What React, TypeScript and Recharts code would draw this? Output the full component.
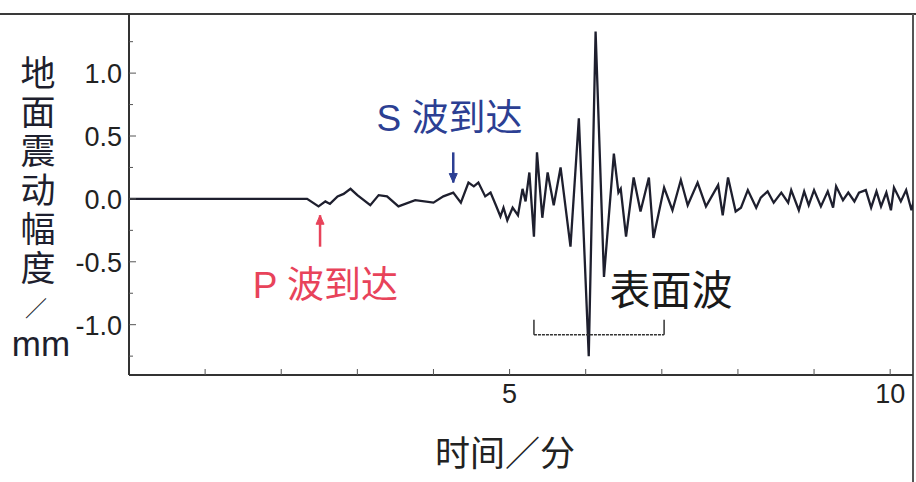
import { LineChart, Line, XAxis, YAxis, ReferenceLine, ReferenceDot } from "recharts";

// time in minutes, amplitude in mm
const times = [
  0, 2.34, 2.49, 2.58, 2.64, 2.74, 2.82, 2.91, 3.0, 3.17,
  3.28, 3.39, 3.54, 3.76, 4.0, 4.13, 4.26, 4.36, 4.46, 4.53,
  4.59, 4.68, 4.75, 4.82, 4.88, 4.92, 4.97, 5.04, 5.11, 5.17,
  5.21, 5.26, 5.32, 5.36, 5.43, 5.5, 5.58, 5.67, 5.8, 5.91,
  6.04, 6.13, 6.24, 6.37, 6.43, 6.46, 6.53, 6.63, 6.72, 6.83,
  6.89, 7.03, 7.14, 7.25, 7.34, 7.47, 7.58, 7.74, 7.8, 7.87,
  7.97, 8.04, 8.13, 8.24, 8.3, 8.39, 8.47, 8.57, 8.66, 8.7,
  8.8, 8.87, 8.93, 9.0, 9.09, 9.18, 9.25, 9.29, 9.38, 9.45,
  9.53, 9.59, 9.68, 9.75, 9.82, 9.88, 9.95, 10.01, 10.05, 10.14,
  10.21, 10.28, 10.34,
];
const amplitudes = [
  0, 0, -0.06, -0.02, -0.04, 0.02, 0.04, 0.08, 0.03, -0.05,
  0.03, 0.02, -0.06, -0.01, -0.03, 0.02, 0.05, -0.03, 0.13, 0.1,
  0.13, 0.02, 0.05, -0.05, -0.14, -0.07, -0.17, -0.07, -0.13, 0.08,
  -0.02, 0.21, -0.3, 0.37, -0.15, 0.21, -0.05, 0.25, -0.38, 0.64,
  -1.25, 1.33, -0.62, 0.36, 0.05, 0.08, -0.3, 0.17, -0.1, 0.17,
  -0.31, 0.09, -0.09, 0.15, -0.05, 0.13, -0.06, 0.11, -0.13, 0.17,
  -0.1, -0.07, 0.07, -0.07, 0.01, 0.06, -0.03, 0.05, -0.03, 0.07,
  -0.09, 0.06, -0.05, 0.07, -0.06, 0.06, -0.07, 0.1, -0.01, 0.05,
  -0.02, 0.05, 0.07, -0.07, 0.06, -0.06, 0.05, -0.09, 0.09, -0.02,
  0.07, -0.09, 0.06,
];
const xTicks = [1, 2, 3, 4, 5, 6, 7, 8, 9, 10];
const xLabelled = [5, 10];
const yTicks = [-1.25, -1, -0.75, -0.5, -0.25, 0, 0.25, 0.5, 0.75, 1, 1.25];
const yLabelled = [-1, -0.5, 0, 0.5, 1];
const yTitleChars = ["地", "面", "震", "动", "幅", "度"];

const data = times.map((t, i) => ({ t, v: amplitudes[i] }));

const FONT = "'Liberation Sans', 'Noto Sans CJK SC', sans-serif";
const INK = "#1e1f2e";

const YTick = (props: any) => {
  const { x, y, payload } = props;
  const v = payload.value;
  const major = yLabelled.includes(v);
  return (
    <g>
      <line x1={x} x2={x + (major ? 7 : 4)} y1={y} y2={y} stroke="#555" strokeWidth={1} />
      {major && (
        <text x={x - 7} y={y} dy={10} textAnchor="end" fontSize={27} fill="#222" fontFamily={FONT}>
          {v.toFixed(1)}
        </text>
      )}
    </g>
  );
};

const XTick = (props: any) => {
  const { x, y, payload } = props;
  const v = payload.value;
  return (
    <g>
      <line x1={x} x2={x} y1={y} y2={y - 6} stroke="#555" strokeWidth={1} />
      {xLabelled.includes(v) && (
        <text x={x} y={y + 28} textAnchor="middle" fontSize={27} fill="#222" fontFamily={FONT}>
          {v}
        </text>
      )}
    </g>
  );
};

const YTitle = () => (
  <g fontFamily={FONT} fill={INK}>
    {yTitleChars.map((c, i) => (
      <text key={c} x={38} y={86 + i * 39} textAnchor="middle" fontSize={35}>
        {c}
      </text>
    ))}
    <text x={36} y={316} textAnchor="middle" fontSize={22}>
      ／
    </text>
    <text x={41} y={356} textAnchor="middle" fontSize={35}>
      mm
    </text>
  </g>
);

const XTitle = () => (
  <text x={505} y={466} textAnchor="middle" fontSize={35} fill="#222" fontFamily={FONT}>
    时间／分
  </text>
);

const Arrow = (color: string, up: boolean) => (props: any) => {
  const { x1, y1, x2, y2 } = props;
  const tipY = up ? Math.min(y1, y2) : Math.max(y1, y2);
  const d = up ? 9 : -9;
  return (
    <g>
      <line x1={x1} x2={x2} y1={y1} y2={y2} stroke={color} strokeWidth={2.5} />
      <path d={`M${x1 - 4},${tipY + d} L${x1},${tipY} L${x1 + 4},${tipY + d} Z`} fill={color} stroke={color} />
    </g>
  );
};

const TextMark = (text: string, color: string, size: number) => (props: any) => (
  <text x={props.cx} y={props.cy} textAnchor="middle" fontSize={size} fill={color} fontFamily={FONT}>
    {text}
  </text>
);

export default function App() {
  return (
    <div style={{ position: "absolute", left: 0, top: 0, width: 916, height: 482, background: "#fff" }}>
      <div style={{ position: "absolute", left: 0, top: 13, width: 916, height: 2, background: "#3a3a3a" }} />
      <div style={{ position: "absolute", left: 912, top: 14, width: 2, height: 468, background: "#555" }} />
      <LineChart width={916} height={482} data={data} margin={{ top: 14, right: 3, left: 0, bottom: 0 }}>
        <XAxis
          dataKey="t"
          type="number"
          domain={[0, 10.3]}
          allowDataOverflow
          ticks={xTicks}
          interval={0}
          height={107}
          tickSize={0}
          tickMargin={0}
          tick={<XTick />}
          axisLine={{ stroke: "#333", strokeWidth: 2 }}
          label={{ content: () => <XTitle /> }}
        />
        <YAxis
          type="number"
          domain={[-1.4, 1.47]}
          allowDataOverflow
          ticks={yTicks}
          interval={0}
          width={129}
          tickSize={0}
          tickMargin={0}
          tick={<YTick />}
          axisLine={{ stroke: "#333", strokeWidth: 2 }}
          label={{ content: () => <YTitle /> }}
        />
        <Line
          dataKey="v"
          type="linear"
          dot={false}
          stroke={INK}
          strokeWidth={2.3}
          isAnimationActive={false}
        />
        <ReferenceLine segment={[{ x: 4.26, y: 0.37 }, { x: 4.26, y: 0.13 }]} shape={Arrow("#2c3f93", false)} />
        <ReferenceLine segment={[{ x: 2.51, y: -0.38 }, { x: 2.51, y: -0.13 }]} shape={Arrow("#e8435a", true)} />
        <ReferenceLine segment={[{ x: 5.32, y: -1.08 }, { x: 7.03, y: -1.08 }]} stroke="#333" strokeWidth={1.5} strokeDasharray="3 1" />
        <ReferenceLine segment={[{ x: 5.32, y: -1.08 }, { x: 5.32, y: -0.96 }]} stroke="#333" strokeWidth={1.5} />
        <ReferenceLine segment={[{ x: 7.03, y: -1.08 }, { x: 7.03, y: -0.96 }]} stroke="#333" strokeWidth={1.5} />
        <ReferenceDot x={4.21} y={0.54} r={0} shape={TextMark("S 波到达", "#2c3f93", 37)} />
        <ReferenceDot x={2.58} y={-0.79} r={0} shape={TextMark("P 波到达", "#e8435a", 37)} />
        <ReferenceDot x={7.12} y={-0.84} r={0} shape={TextMark("表面波", "#1a1a1a", 41)} />
      </LineChart>
    </div>
  );
}
